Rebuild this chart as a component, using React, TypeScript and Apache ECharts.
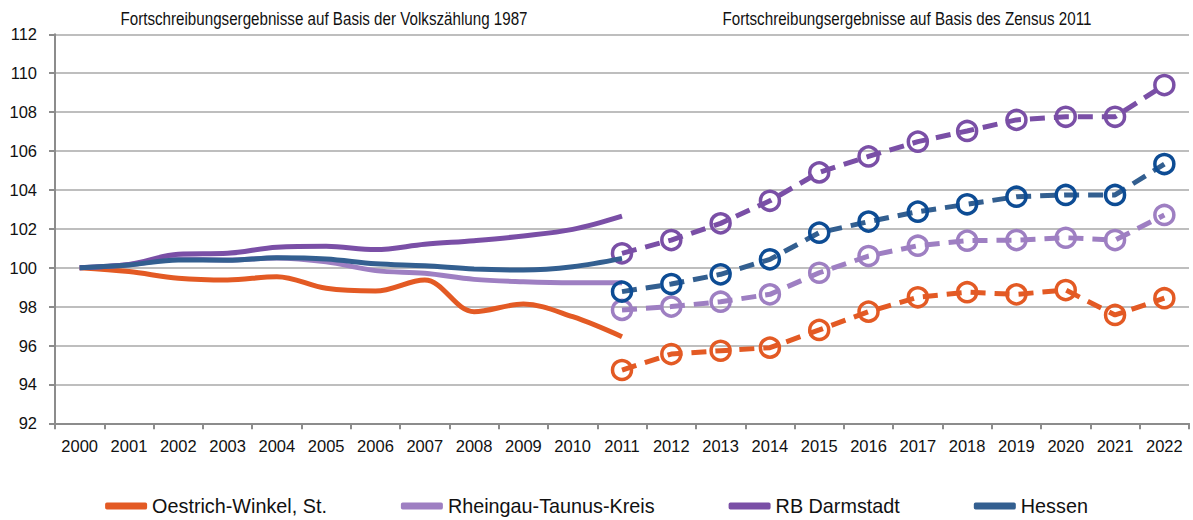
import React, { useEffect, useRef } from "react";
import * as echarts from "echarts";

const years = ["2000","2001","2002","2003","2004","2005","2006","2007","2008","2009","2010","2011","2012","2013","2014","2015","2016","2017","2018","2019","2020","2021","2022"];
const seriesNames = ["Oestrich-Winkel, St.", "Rheingau-Taunus-Kreis", "RB Darmstadt", "Hessen"];
const titleOld = "Fortschreibungsergebnisse auf Basis der Volkszählung 1987";
const titleNew = "Fortschreibungsergebnisse auf Basis des Zensus 2011";

// Basis Volkszählung 1987 (2000-2011)
const oestrichOld = [100, 99.8, 99.46, 99.37, 99.54, 98.94, 98.8, 99.37, 97.74, 98.13, 97.48, 96.45];
const rheingauOld = [100, 100.15, 100.45, 100.4, 100.5, 100.3, 99.85, 99.71, 99.4, 99.28, 99.23, 99.23];
const darmstadtOld = [100, 100.17, 100.69, 100.74, 101.05, 101.1, 100.93, 101.2, 101.39, 101.63, 101.97, 102.65];
const hessenOld = [100, 100.14, 100.4, 100.38, 100.51, 100.45, 100.2, 100.1, 99.93, 99.88, 100.05, 100.48];

// Basis Zensus 2011 (2011-2022)
const oestrichNew = [94.74, 95.56, 95.73, 95.89, 96.8, 97.74, 98.48, 98.74, 98.63, 98.85, 97.57, 98.43];
const rheingauNew = [97.83, 98.0, 98.25, 98.63, 99.74, 100.6, 101.13, 101.39, 101.42, 101.54, 101.42, 102.71];
const darmstadtNew = [100.74, 101.42, 102.28, 103.44, 104.9, 105.72, 106.48, 107.03, 107.6, 107.76, 107.76, 109.39];
const hessenNew = [98.77, 99.16, 99.66, 100.43, 101.8, 102.37, 102.88, 103.26, 103.65, 103.74, 103.74, 105.33];

const lineColors = ["#E35A24", "#9E7FC2", "#7A4FA6", "#335F90"];
const markerColors = ["#E35A24", "#9E7FC2", "#7A4FA6", "#0D4C94"];

const FONT = "'Liberation Sans', Arial, sans-serif";

const padOld = (arr: number[]) => [...arr, ...Array(years.length - arr.length).fill(null)];
const padNew = (arr: number[]) => [...Array(years.length - arr.length).fill(null), ...arr];

export default function App() {
  const ref = useRef<HTMLDivElement>(null);
  useEffect(() => {
    if (!ref.current) return;
    const chart = echarts.init(ref.current, undefined, { renderer: "svg" });
    const olds = [oestrichOld, rheingauOld, darmstadtOld, hessenOld];
    const news = [oestrichNew, rheingauNew, darmstadtNew, hessenNew];
    const series: any[] = [];
    olds.forEach((d, i) => {
      series.push({
        name: seriesNames[i],
        type: "line",
        data: padOld(d),
        smooth: 0.35,
        showSymbol: false,
        symbol: "none",
        lineStyle: { color: lineColors[i], width: 5 },
        itemStyle: { color: lineColors[i] },
        z: 2 + i,
      });
    });
    news.forEach((d, i) => {
      series.push({
        name: seriesNames[i],
        type: "line",
        data: padNew(d),
        symbol: "circle",
        symbolSize: 19,
        showSymbol: true,
        lineStyle: { color: lineColors[i], width: 5, type: [15, 9] },
        itemStyle: { color: "rgba(255,255,255,0)", borderColor: markerColors[i], borderWidth: 3.5 },
        z: 2 + i,
      });
    });
    const titleStyle = { fontSize: 18.5, fontFamily: FONT, fill: "#111", textAlign: "center", textVerticalAlign: "middle" };
    chart.setOption({
      animation: false,
      grid: { left: 55, right: 4, top: 34.3, bottom: 96.7, containLabel: false },
      xAxis: {
        type: "category",
        data: years,
        boundaryGap: true,
        axisLine: { lineStyle: { color: "#8C8C8C", width: 2 } },
        axisTick: { show: true, interval: 0, length: 6, lineStyle: { color: "#8C8C8C", width: 2 } },
        axisLabel: { interval: 0, margin: 14, color: "#111", fontSize: 16.5, fontFamily: FONT },
      },
      yAxis: {
        type: "value",
        min: 92,
        max: 112,
        interval: 2,
        axisLine: { show: true, lineStyle: { color: "#8C8C8C", width: 2 } },
        axisTick: { show: true, length: 6, lineStyle: { color: "#8C8C8C", width: 2 } },
        axisLabel: { margin: 18, color: "#111", fontSize: 16.5, fontFamily: FONT },
        splitLine: { lineStyle: { color: "#A8A8A8", width: 1.5 } },
      },
      legend: {
        left: "center",
        top: 491,
        itemWidth: 42,
        itemHeight: 7,
        itemGap: 74,
        textStyle: { fontSize: 19.8, color: "#111", fontFamily: FONT },
        data: seriesNames.map((n, i) => ({ name: n, icon: "roundRect", itemStyle: { color: lineColors[i], borderWidth: 0 } })),
      },
      graphic: [
        { type: "text", x: 324, y: 19, scaleX: 0.82, style: { text: titleOld, ...titleStyle } },
        { type: "text", x: 907, y: 19, scaleX: 0.82, style: { text: titleNew, ...titleStyle } },
      ],
      series,
    });
    return () => chart.dispose();
  }, []);
  return <div ref={ref} style={{ position: "fixed", left: 0, top: 0, width: 1193, height: 520, background: "#fff" }} />;
}
